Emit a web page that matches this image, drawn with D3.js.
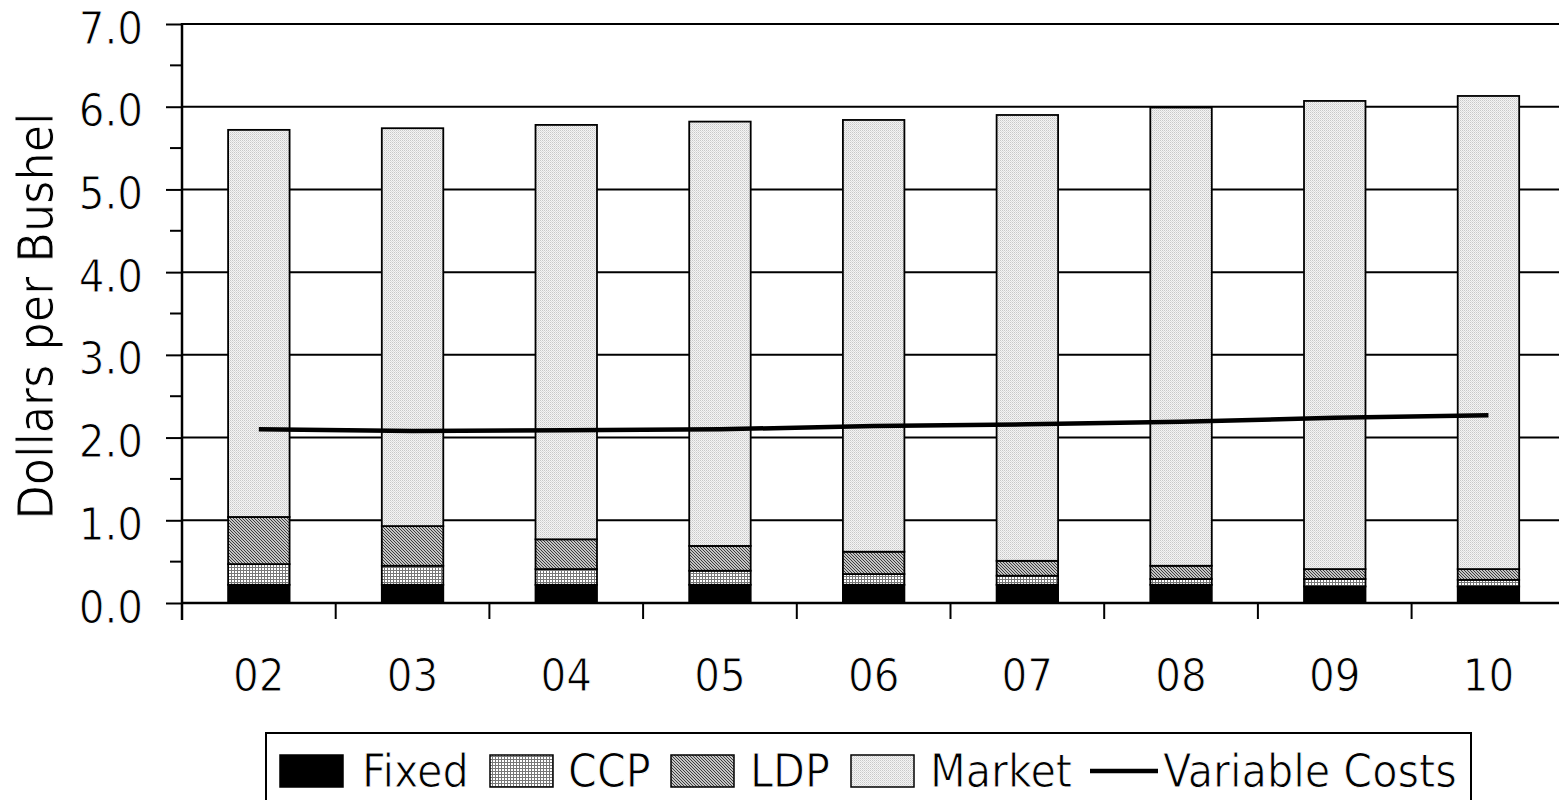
<!DOCTYPE html>
<html><head><meta charset="utf-8">
<script src="https://cdn.jsdelivr.net/npm/d3@7"></script>
<style>
html,body{margin:0;padding:0;background:#fff;overflow:hidden}
text{font-family:"DejaVu Sans Condensed","DejaVu Sans",sans-serif;font-stretch:condensed;fill:#000;stroke:#fff;stroke-width:0.9px;paint-order:fill}
</style></head>
<body>
<svg id="chart" width="1559" height="800"></svg>
<script>
const years = ["02","03","04","05","06","07","08","09","10"];
const fixed  = [0.22,0.22,0.22,0.22,0.22,0.22,0.22,0.20,0.20];
const ccp    = [0.25,0.23,0.19,0.17,0.13,0.11,0.07,0.09,0.08];
const ldp    = [0.57,0.48,0.36,0.30,0.27,0.18,0.16,0.12,0.13];
const totals = [5.72,5.74,5.78,5.82,5.84,5.90,5.99,6.07,6.13];
const variableCosts = [2.10,2.08,2.09,2.10,2.14,2.16,2.19,2.24,2.27];
const yTicks = [0,1,2,3,4,5,6,7];
const yMinor = [0.5,1.5,2.5,3.5,4.5,5.5,6.5];
const seriesNames = ["Fixed","CCP","LDP","Market"];

const market = totals.map((t,i)=> +(t - fixed[i]-ccp[i]-ldp[i]).toFixed(2));
const rows = years.map((yr,i)=>({year:yr, Fixed:fixed[i], CCP:ccp[i], LDP:ldp[i], Market:market[i]}));

const svg = d3.select("#chart");
const defs = svg.append("defs");
// CCP: fine grid
const pc = defs.append("pattern").attr("id","pCCP").attr("patternUnits","userSpaceOnUse").attr("width",3).attr("height",3);
pc.append("rect").attr("width",3).attr("height",3).attr("fill","#fff");
pc.append("rect").attr("x",0).attr("y",0).attr("width",1).attr("height",3).attr("fill","#777");
pc.append("rect").attr("x",0).attr("y",0).attr("width",3).attr("height",1).attr("fill","#777");
// LDP: dense diagonal hatch
const pl = defs.append("pattern").attr("id","pLDP").attr("patternUnits","userSpaceOnUse").attr("width",3).attr("height",3);
pl.append("rect").attr("width",3).attr("height",3).attr("fill","#fff");
pl.append("path").attr("d","M0,0 L3,3 M-1,2 L1,4 M2,-1 L4,1").attr("stroke","#333").attr("stroke-width",1.1);
// Market: light dotted
const pm = defs.append("pattern").attr("id","pMarket").attr("patternUnits","userSpaceOnUse").attr("width",2).attr("height",2);
pm.append("rect").attr("width",2).attr("height",2).attr("fill","#f4f4f4");
pm.append("rect").attr("x",0).attr("y",0).attr("width",1).attr("height",1).attr("fill","#c8c8c8");
pm.append("rect").attr("x",1).attr("y",1).attr("width",1).attr("height",1).attr("fill","#dcdcdc");

const fills = {Fixed:"#000", CCP:"url(#pCCP)", LDP:"url(#pLDP)", Market:"url(#pMarket)"};

const plotLeft = 182, plotRight = 182 + 9*153.7, plotTop = 24, plotBottom = 603;
const x = d3.scaleBand().domain(years).range([plotLeft,plotRight]).paddingInner(0).paddingOuter(0);
const y = d3.scaleLinear().domain([0,7]).range([plotBottom,plotTop]);
const barW = x.bandwidth()*0.40;

// gridlines
svg.append("g").selectAll("line").data(yTicks.filter(d=>d>0)).join("line")
  .attr("x1",plotLeft).attr("x2",1565).attr("y1",d=>y(d)).attr("y2",d=>y(d))
  .attr("stroke","#000").attr("stroke-width",2);

// stacked bars
const stack = d3.stack().keys(seriesNames)(rows);
svg.append("g").selectAll("g").data(stack).join("g")
  .attr("fill",d=>fills[d.key])
  .selectAll("rect").data(d=>d).join("rect")
  .attr("x",d=>x(d.data.year)+x.bandwidth()/2-barW/2)
  .attr("width",barW)
  .attr("y",d=>y(d[1])).attr("height",d=>y(d[0])-y(d[1]))
  .attr("stroke","#000").attr("stroke-width",1.8);

// y axis
const yAxis = d3.axisLeft(y).tickValues(yTicks).tickFormat(d3.format(".1f")).tickSize(16).tickPadding(23);
const gy = svg.append("g").attr("transform",`translate(${plotLeft},0)`).call(yAxis);
gy.select(".domain").remove();
gy.selectAll(".tick line").attr("stroke","#000").attr("stroke-width",2);
gy.selectAll(".tick text").attr("font-size",45).attr("dy",null).attr("y",19).attr("fill",null)
  .style("font-family",'"DejaVu Sans Condensed","DejaVu Sans",sans-serif');
svg.append("g").selectAll("line").data(yMinor).join("line")
  .attr("x1",plotLeft-12).attr("x2",plotLeft).attr("y1",d=>y(d)).attr("y2",d=>y(d))
  .attr("stroke","#000").attr("stroke-width",2);
svg.append("line").attr("x1",plotLeft).attr("x2",plotLeft).attr("y1",plotTop-1).attr("y2",620)
  .attr("stroke","#000").attr("stroke-width",2.5);

// x axis
svg.append("line").attr("x1",plotLeft).attr("x2",1565).attr("y1",plotBottom).attr("y2",plotBottom)
  .attr("stroke","#000").attr("stroke-width",2.5);
svg.append("g").selectAll("line").data(years.slice(1)).join("line")
  .attr("x1",d=>x(d)).attr("x2",d=>x(d)).attr("y1",plotBottom).attr("y2",619)
  .attr("stroke","#000").attr("stroke-width",2);
svg.append("g").selectAll("text").data(years).join("text")
  .attr("x",d=>x(d)+x.bandwidth()/2).attr("y",691)
  .attr("text-anchor","middle").attr("font-size",45).text(d=>d);

// variable cost line
const line = d3.line().x((d,i)=>x(years[i])+x.bandwidth()/2).y(d=>y(d));
svg.append("path").datum(variableCosts).attr("d",line)
  .attr("fill","none").attr("stroke","#000").attr("stroke-width",4.5);

// y title (sized to span the same length as the reference)
const title = svg.append("text").attr("transform","translate(53,316) rotate(-90)")
  .attr("text-anchor","middle").attr("font-size",45).text("Dollars per Bushel");
const tl = title.node().getComputedTextLength();
title.attr("font-size", 45*407/tl);

// legend
const lg = svg.append("g");
lg.append("rect").attr("x",266).attr("y",733).attr("width",1205).attr("height",90)
  .attr("fill","#fff").attr("stroke","#000").attr("stroke-width",2);
const legendItems = [
  {name:"Fixed", sx:280, tx:362},
  {name:"CCP", sx:490, tx:568},
  {name:"LDP", sx:671, tx:750},
  {name:"Market", sx:851, tx:930}
];
legendItems.forEach(it=>{
  lg.append("rect").attr("x",it.sx).attr("y",755).attr("width",63).attr("height",32)
    .attr("fill",fills[it.name]).attr("stroke","#000").attr("stroke-width",1.5);
  lg.append("text").attr("x",it.tx).attr("y",787).attr("font-size",46).text(it.name);
});
lg.append("line").attr("x1",1090).attr("x2",1158).attr("y1",771).attr("y2",771)
  .attr("stroke","#000").attr("stroke-width",4.5);
lg.append("text").attr("x",1163).attr("y",787).attr("font-size",46).text("Variable Costs");
</script>
</body></html>
